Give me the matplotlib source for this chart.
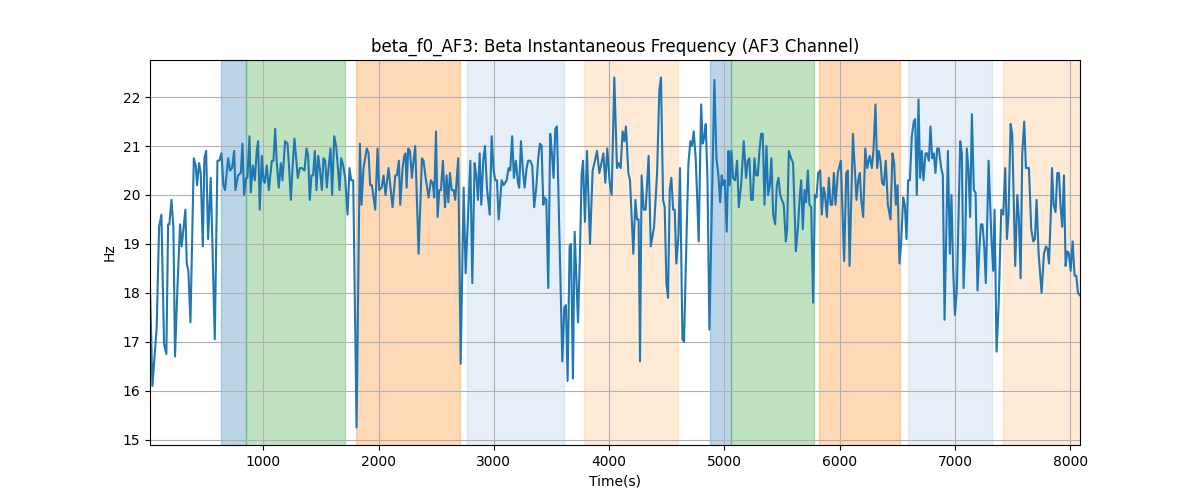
import numpy as np
import matplotlib
matplotlib.use("Agg")
import matplotlib.pyplot as plt

time_a = [17, 38, 75, 96, 116, 139, 159, 174, 185, 203,
          220, 234, 255, 278, 292, 324, 336, 350, 368, 397,
          414, 425, 443, 457, 475, 489, 504, 521, 544, 579,
          602, 619, 637, 654, 668, 695, 712, 729, 747, 758,
          781, 805, 819, 833, 851, 862, 880, 891, 909, 926,
          943, 955, 969, 987, 1001, 1013, 1030, 1048]
freq_a = [18.1, 16.1, 17.3, 19.35, 19.6, 16.95, 16.75, 19.4, 19.4, 19.9,
          19.35, 16.7, 18.1, 19.4, 18.95, 19.7, 18.6, 18.45, 17.4, 20.75,
          20.6, 20.2, 20.65, 20.45, 18.95, 20.75, 20.9, 19.1, 20.35, 17.05,
          20.7, 20.7, 20.85, 20.2, 20.1, 20.75, 20.5, 20.55, 20.9, 20.1,
          20.4, 20.45, 21.05, 20.0, 20.35, 20.35, 21.2, 20.05, 20.6, 20.3,
          20.9, 21.1, 19.7, 20.8, 20.3, 20.25, 20.6, 20.1]

time_b = [1074, 1088, 1103, 1117, 1134, 1152, 1166, 1189, 1210, 1224,
          1239, 1256, 1270, 1285, 1299, 1317, 1334, 1357, 1375, 1389,
          1403, 1418, 1432, 1447, 1461, 1476, 1490, 1508, 1522, 1537,
          1551, 1566, 1583, 1597, 1615, 1632, 1649, 1661, 1676, 1693,
          1710, 1731, 1748, 1762, 1780, 1809, 1838, 1852, 1869, 1898,
          1913, 1927, 1942, 1971, 1991, 2005, 2026, 2043, 2060, 2086]
freq_b = [20.7, 20.7, 21.35, 20.65, 20.15, 20.65, 20.3, 21.1, 21.05, 20.55,
          19.9, 20.65, 21.15, 20.75, 20.35, 20.55, 20.55, 20.5, 20.95, 20.8,
          19.9, 20.4, 20.4, 20.9, 20.1, 20.8, 20.55, 20.1, 20.75, 20.7,
          20.15, 20.55, 20.95, 20.0, 21.2, 21.0, 20.5, 20.1, 20.75, 20.6,
          20.35, 19.6, 20.55, 20.3, 20.3, 15.25, 21.05, 19.8, 20.55, 20.95,
          20.85, 20.2, 20.2, 19.7, 20.95, 20.1, 20.15, 20.4, 20.0, 20.55]

time_c = [2121, 2145, 2159, 2176, 2188, 2208, 2223, 2234, 2243, 2257,
          2272, 2289, 2301, 2318, 2347, 2376, 2390, 2408, 2434, 2454,
          2469, 2483, 2498, 2512, 2527, 2541, 2558, 2576, 2590, 2605,
          2619, 2634, 2651, 2665, 2691, 2712, 2738, 2755, 2796, 2813,
          2833, 2848, 2862, 2877, 2891, 2908, 2923, 2940, 2964, 2981,
          2998, 3013, 3027, 3042, 3068, 3085, 3111]
freq_c = [19.75, 20.4, 20.4, 20.7, 19.8, 20.55, 20.8, 20.85, 20.15, 20.95,
          20.9, 20.35, 20.65, 21.0, 18.8, 20.75, 20.7, 20.35, 19.95, 20.3,
          20.25, 19.95, 21.3, 19.55, 20.1, 20.1, 20.7, 19.75, 20.4, 19.85,
          20.45, 20.1, 20.1, 19.9, 20.75, 16.55, 20.15, 18.4, 20.7, 18.2,
          20.65, 20.4, 19.9, 20.85, 19.8, 20.7, 21.0, 20.15, 19.6, 21.2,
          20.5, 20.3, 20.3, 19.5, 20.3, 20.2, 20.3]

time_d = [3128, 3142, 3159, 3174, 3191, 3209, 3220, 3235, 3252, 3267,
          3284, 3298, 3316, 3333, 3350, 3368, 3385, 3400, 3414, 3429,
          3440, 3455, 3472, 3489, 3504, 3518, 3533, 3547, 3594, 3611,
          3625, 3640, 3657, 3669, 3686, 3701, 3730, 3747, 3761, 3773,
          3790, 3808, 3834, 3857, 3877, 3895, 3915, 3929, 3950, 3967,
          3984, 4005, 4022, 4045, 4068, 4083, 4100, 4117, 4132, 4146]
freq_d = [20.55, 20.5, 21.2, 20.35, 20.7, 20.25, 20.15, 21.1, 20.5, 20.15,
          20.55, 20.7, 20.7, 20.6, 19.75, 20.15, 20.75, 21.05, 21.0, 19.8,
          19.95, 19.9, 18.1, 21.25, 20.85, 20.35, 21.35, 21.4, 16.6, 17.7,
          17.75, 16.2, 18.95, 19.0, 16.25, 19.25, 17.4, 18.8, 20.4, 20.7,
          19.45, 20.9, 19.0, 20.5, 20.7, 20.9, 20.45, 20.6, 20.85, 20.25,
          20.95, 20.25, 20.0, 22.4, 20.55, 20.65, 20.55, 21.3, 21.1, 21.4]

time_e = [4167, 4181, 4210, 4228, 4242, 4256, 4268, 4282, 4300, 4317,
          4343, 4361, 4390, 4416, 4436, 4450, 4468, 4482, 4497, 4511,
          4526, 4540, 4555, 4569, 4583, 4601, 4615, 4636, 4650, 4673,
          4688, 4705, 4719, 4734, 4751, 4763, 4777, 4798, 4812, 4827,
          4838, 4853, 4870, 4913, 4931, 4948, 4963, 4977, 4989, 5003,
          5020, 5035, 5046, 5061, 5075, 5093, 5110, 5125, 5145, 5168]
freq_e = [20.45, 20.3, 18.8, 19.9, 19.5, 19.5, 16.6, 20.4, 19.7, 19.7,
          20.8, 18.95, 19.35, 20.45, 22.15, 22.4, 19.9, 19.75, 18.2, 17.9,
          20.1, 20.35, 19.7, 19.7, 18.6, 19.15, 20.55, 17.05, 17.0, 19.3,
          20.65, 21.1, 21.0, 21.3, 20.75, 20.0, 19.05, 21.85, 21.05, 21.2,
          21.45, 20.35, 17.25, 22.35, 20.75, 20.4, 19.85, 20.4, 20.2, 20.3,
          19.25, 20.9, 20.2, 20.9, 20.35, 20.3, 20.7, 19.75, 20.2, 21.1]

time_f = [5188, 5203, 5217, 5232, 5246, 5261, 5275, 5290, 5304, 5319,
          5333, 5348, 5365, 5379, 5394, 5408, 5423, 5440, 5455, 5469,
          5484, 5498, 5515, 5533, 5544, 5559, 5579, 5596, 5620, 5637,
          5652, 5666, 5680, 5695, 5709, 5724, 5738, 5753, 5770, 5785,
          5799, 5814, 5831, 5845, 5860, 5871, 5889, 5906, 5921, 5935,
          5950, 5964, 5984, 6010, 6039, 6057, 6071, 6086, 6115, 6129,
          6146, 6161, 6175, 6187, 6204, 6222, 6239]
freq_f = [20.35, 20.7, 20.75, 19.9, 19.9, 20.75, 20.4, 20.4, 20.9, 21.25,
          21.25, 19.8, 21.0, 20.0, 20.2, 20.75, 19.6, 19.4, 20.2, 20.35,
          20.0, 19.9, 19.8, 19.05, 19.3, 20.9, 20.75, 20.65, 18.85, 19.3,
          19.9, 20.3, 19.3, 20.1, 19.85, 20.5, 19.8, 19.75, 17.8, 20.0,
          19.95, 20.45, 20.5, 19.6, 20.15, 20.05, 19.55, 20.35, 19.8, 19.8,
          20.45, 19.8, 20.45, 20.7, 18.65, 20.45, 20.5, 18.55, 21.25, 20.65,
          19.9, 20.3, 20.45, 19.9, 19.55, 20.95, 20.55]

time_g = [6261, 6279, 6293, 6311, 6325, 6339, 6354, 6368, 6383, 6400,
          6418, 6441, 6458, 6473, 6487, 6502, 6519, 6533, 6551, 6565,
          6580, 6594, 6609, 6626, 6643, 6655, 6669, 6684, 6698, 6713,
          6727, 6745, 6759, 6774, 6788, 6802, 6817, 6831, 6846, 6860,
          6881, 6895, 6910, 6939, 6956, 6970, 6985, 7000, 7017, 7046,
          7060, 7075, 7089, 7103, 7118, 7132, 7147, 7164, 7179, 7196,
          7213, 7225, 7239, 7254, 7268, 7292]
freq_g = [20.8, 20.55, 20.9, 21.85, 20.55, 20.9, 20.7, 20.25, 20.2, 20.7,
          19.8, 19.5, 20.85, 20.65, 19.8, 20.2, 18.6, 19.0, 19.95, 19.8,
          19.1, 20.3, 20.3, 21.2, 21.5, 21.55, 20.0, 21.95, 20.35, 20.9,
          20.3, 20.85, 20.85, 20.7, 21.4, 20.75, 20.85, 20.45, 20.95, 20.95,
          20.55, 20.4, 17.45, 20.9, 18.8, 20.0, 18.45, 17.55, 18.1, 21.1,
          20.85, 18.1, 18.95, 20.95, 20.5, 19.55, 21.65, 20.1, 20.05, 18.05,
          18.95, 19.4, 19.4, 18.95, 18.2, 20.7]

time_h = [7315, 7332, 7344, 7361, 7379, 7402, 7419, 7436, 7451, 7465,
          7483, 7497, 7523, 7541, 7555, 7570, 7584, 7601, 7616, 7642,
          7662, 7680, 7694, 7708, 7726, 7752, 7772, 7790, 7804, 7816,
          7833, 7842, 7856, 7873, 7888, 7902, 7917, 7931, 7946, 7960,
          7975, 7989, 8004, 8021, 8038, 8053, 8067, 8085]
freq_h = [19.2, 18.45, 19.7, 16.8, 17.75, 19.7, 19.6, 20.55, 19.1, 19.6,
          21.45, 21.25, 18.55, 20.0, 19.5, 18.3, 20.85, 21.5, 20.55, 20.55,
          19.3, 19.05, 19.1, 19.9, 18.8, 18.0, 18.8, 18.95, 18.9, 18.6,
          19.7, 20.55, 19.8, 19.65, 20.45, 20.45, 19.75, 19.35, 20.4, 18.55,
          18.85, 18.8, 18.45, 19.05, 18.35, 18.35, 18.0, 17.95]

# labelled intervals (s)
span_start = [634, 850, 1807, 2769, 3785, 4871, 5053, 5825, 6589, 7413]
span_end = [850, 1705, 2704, 3605, 4596, 5053, 5776, 6522, 7321, 8085]
span_kind = [0, 1, 2, 3, 4, 0, 1, 2, 3, 4]

kind_color = ['#1f77b4', '#2ca02c', '#ff7f0e', '#aec7e8', '#ffbb78']

time = np.concatenate([time_a, time_b, time_c, time_d, time_e, time_f, time_g, time_h])
freq = np.concatenate([freq_a, freq_b, freq_c, freq_d, freq_e, freq_f, freq_g, freq_h])

fig, ax = plt.subplots(figsize=(12, 5), dpi=100)
for s, e, k in zip(span_start, span_end, span_kind):
    ax.axvspan(s, e, color=kind_color[k], alpha=0.3)
ax.plot(time, freq, color='C0')
ax.set_xlim(time[0], time[-1])
ax.set_title('beta_f0_AF3: Beta Instantaneous Frequency (AF3 Channel)')
ax.set_xlabel('Time(s)')
ax.set_ylabel('Hz')
ax.grid(True)
fig.savefig('out.png')
